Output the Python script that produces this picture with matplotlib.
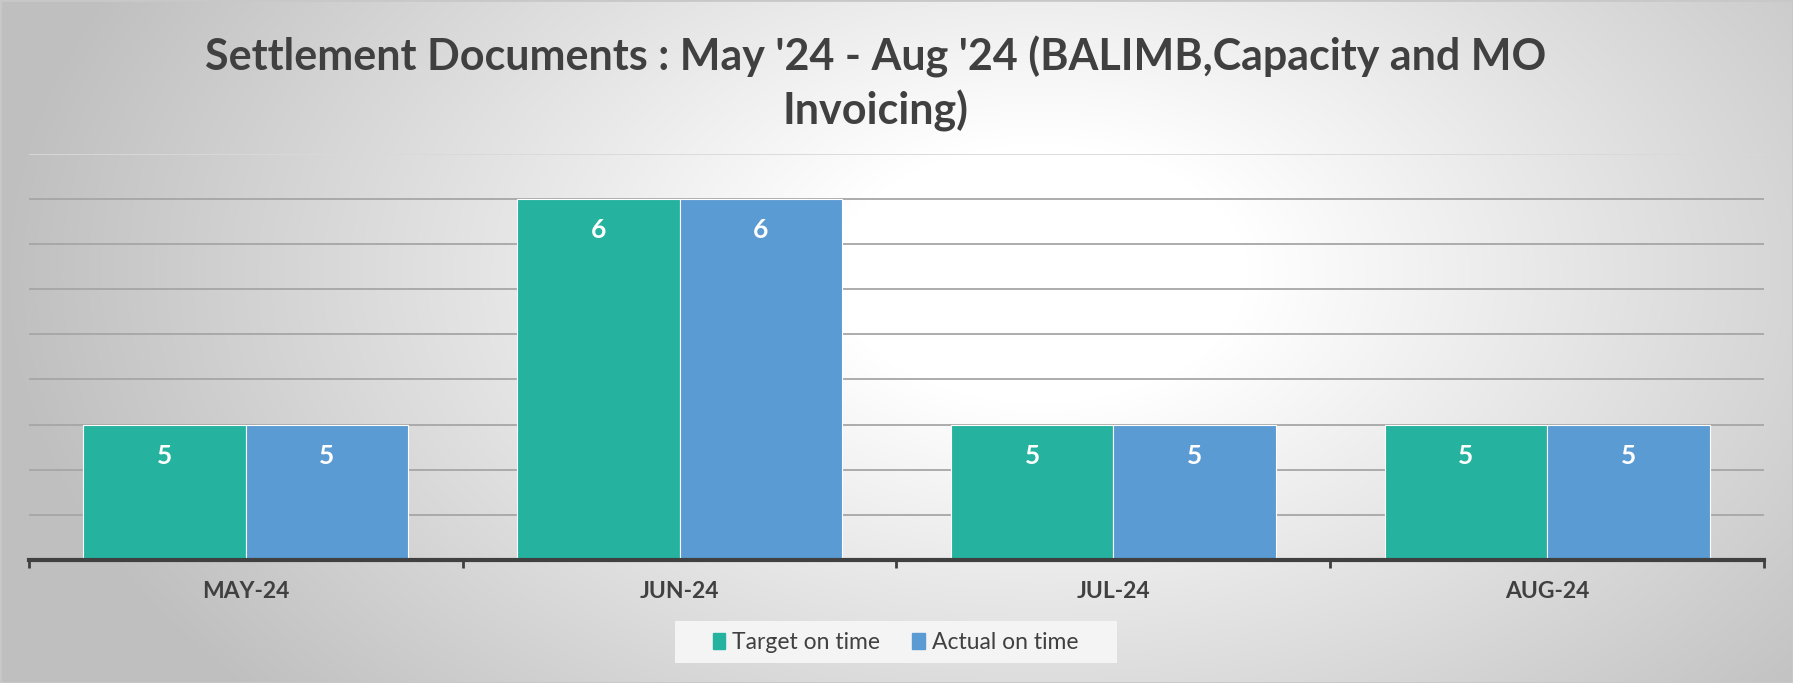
import numpy as np
import matplotlib
matplotlib.use("Agg")
import matplotlib.pyplot as plt
import matplotlib.patches as mpatches

months = ["MAY-24", "JUN-24", "JUL-24", "AUG-24"]
target_on_time = [5, 6, 5, 5]
actual_on_time = [5, 6, 5, 5]
series_names = ["Target on time", "Actual on time"]

TEAL = "#25b39f"
BLUE = "#5b9bd3"
TEXT = "#404040"

plt.rcParams["font.family"] = ["Lato", "DejaVu Sans"]

W, H = 1793, 683
fig = plt.figure(figsize=(W / 100, H / 100), dpi=100)

# radial grey-to-white background
bg = fig.add_axes([0, 0, 1, 1], zorder=-10)
yy, xx = np.mgrid[0:H, 0:W]
cx, cy = 0.58 * W, 0.40 * H
d = np.sqrt(((xx - cx) / (0.58 * W)) ** 2 + ((yy - cy) / (0.95 * H)) ** 2)
shade = 1.0 - 0.25 * np.clip((d - 0.2) / 0.8, 0, 1)
bg.imshow(np.dstack([shade] * 3), aspect="auto", extent=[0, 1, 0, 1])
bg.set_xlim(0, 1)
bg.set_ylim(0, 1)
bg.axis("off")
bg.add_patch(mpatches.Rectangle((0, 0), 1, 1, transform=bg.transAxes,
                                fill=False, edgecolor="#c8c8c8", linewidth=2))
# legend backing box
bg.add_patch(mpatches.Rectangle((675 / W, 1 - 663 / H), 442 / W, 42 / H,
                                facecolor="#f4f4f4", edgecolor="none"))

ax = fig.add_axes([0.016, 0.180, 0.968, 0.595])
ax.patch.set_alpha(0)

x = np.arange(len(months))
bw = 0.375
ax.bar(x - bw / 2, target_on_time, bw, color=TEAL, edgecolor="white",
       linewidth=0.8, zorder=3, label=series_names[0])
ax.bar(x + bw / 2, actual_on_time, bw, color=BLUE, edgecolor="white",
       linewidth=0.8, zorder=3, label=series_names[1])

for xi, v in zip(x, target_on_time):
    ax.text(xi - bw / 2, v - 0.14, f"{v}", ha="center", va="center", color="white",
            fontsize=19, fontweight="bold", zorder=4)
for xi, v in zip(x, actual_on_time):
    ax.text(xi + bw / 2, v - 0.14, f"{v}", ha="center", va="center", color="white",
            fontsize=19, fontweight="bold", zorder=4)

ax.set_xlim(-0.5, len(months) - 0.5)
ax.set_ylim(4.4, 6.2)
ax.set_yticks([])
for gy in np.arange(4.6, 6.19, 0.2):
    ax.axhline(gy, color="#a6a6a6", linewidth=1.3, zorder=1)
ax.axhline(6.2, color="#d9d9d9", linewidth=1.3, zorder=1)

for s in ["top", "right", "left"]:
    ax.spines[s].set_visible(False)
ax.spines["bottom"].set_color(TEXT)
ax.spines["bottom"].set_linewidth(3)
ax.spines["bottom"].set_zorder(5)

ax.set_xticks(x)
ax.set_xticklabels(months, fontsize=16.5, fontweight="bold", color=TEXT)
ax.tick_params(axis="x", which="major", length=0, pad=15)
ax.set_xticks(np.arange(-0.5, len(months)), minor=True)
ax.tick_params(axis="x", which="minor", length=6, width=2, color=TEXT, direction="out")

fig.text(0.4885, 0.917, "Settlement Documents : May '24 - Aug '24 (BALIMB,Capacity and MO",
         ha="center", va="center", fontsize=31, fontweight="bold", color=TEXT)
fig.text(0.4885, 0.838, "Invoicing)", ha="center", va="center",
         fontsize=31, fontweight="bold", color=TEXT)

leg = fig.legend(handles=[mpatches.Patch(color=TEAL, label=series_names[0]),
                          mpatches.Patch(color=BLUE, label=series_names[1])],
                 loc="center", bbox_to_anchor=(0.4995, 0.059), ncol=2,
                 fontsize=16.5, frameon=False, handlelength=0.55, handleheight=0.7,
                 handletextpad=0.3, columnspacing=1.4, borderaxespad=0)
for t in leg.get_texts():
    t.set_color(TEXT)

fig.savefig("out.png", dpi=100)
